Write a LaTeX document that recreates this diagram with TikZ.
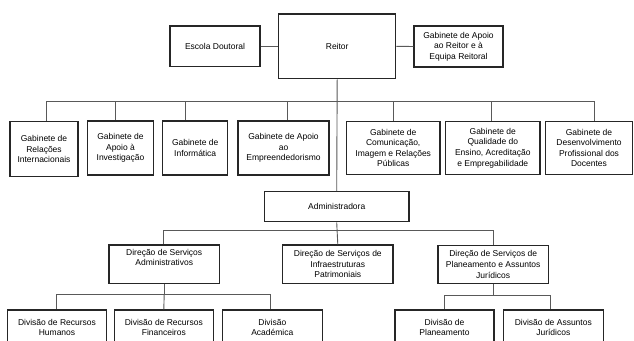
\documentclass[tikz,border=0pt]{standalone}
\usepackage{fontspec}
\setmainfont{Liberation Sans}
\begin{document}
\begin{tikzpicture}[x=1pt,y=-1pt,
  box/.style={draw=black!85,line width=1.3pt,fill=white,align=center,inner sep=1pt,
    font=\fontsize{8.5}{10.6}\selectfont},
  link/.style={draw=black!65,line width=0.9pt}]
\clip (0,0) rectangle (634,340);
\fill[white] (0,0) rectangle (634,340);
% top row
\node[box,minimum width=90pt,minimum height=40.5pt] (escola) at (215,46.3) {Escola Doutoral};
\node[box,minimum width=117pt,minimum height=64.7pt] (reitor) at (337.2,46.3) {Reitor};
\node[box,minimum width=89pt,minimum height=41pt] (gabreitor) at (458.5,46.5) {Gabinete de Apoio\\ao Reitor e à\\Equipa Reitoral};
% gabinetes
\node[box,minimum width=68pt,minimum height=55pt] (g1) at (44,149) {Gabinete de\\Relações\\Internacionais};
\node[box,minimum width=65.6pt,minimum height=54pt] (g2) at (120.5,148) {Gabinete de\\Apoio à\\Investigação};
\node[box,minimum width=65pt,minimum height=54pt] (g3) at (195.2,148) {Gabinete de\\Informática};
\node[box,minimum width=91pt,minimum height=54pt] (g4) at (283.5,148) {Gabinete de Apoio\\ao\\Empreendedorismo};
\node[box,minimum width=93.7pt,minimum height=53pt] (g5) at (393.2,148) {Gabinete de\\Comunicação,\\Imagem e Relações\\Públicas};
\node[box,minimum width=94.3pt,minimum height=53pt] (g6) at (492.8,148) {Gabinete de\\Qualidade do\\Ensino, Acreditação\\e Empregabilidade};
\node[box,minimum width=86.6pt,minimum height=53pt] (g7) at (589,148) {Gabinete de\\Desenvolvimento\\Profissional dos\\Docentes};
% administradora
\node[box,minimum width=144.7pt,minimum height=30pt] (admin) at (336.7,206.7) {Administradora};
\node[box,minimum width=110.3pt,minimum height=38.3pt] (dsa) at (164.2,264.2) {Direção de Serviços\\Administrativos\\[3pt]};
\node[box,minimum width=110.3pt,minimum height=38.3pt] (dsi) at (337.8,264.2) {Direção de Serviços de\\Infraestruturas\\Patrimoniais};
\node[box,minimum width=110.3pt,minimum height=37.6pt] (dsp) at (493.2,264.5) {Direção de Serviços de\\Planeamento e Assuntos\\Jurídicos};
% divisions
\node[box,minimum width=99.4pt,minimum height=35pt] (d1) at (57,327.5) {Divisão de Recursos\\Humanos};
\node[box,minimum width=99pt,minimum height=35pt] (d2) at (163.8,327.5) {Divisão de Recursos\\Financeiros};
\node[box,minimum width=100pt,minimum height=35pt] (d3) at (272.3,327.5) {Divisão\\Académica};
\node[box,minimum width=99pt,minimum height=35pt] (d4) at (444.5,327.5) {Divisão de\\Planeamento};
\node[box,minimum width=100pt,minimum height=35pt] (d5) at (553.3,327.5) {Divisão de Assuntos\\Jurídicos};
% bus coordinates
\coordinate (b1) at (46,101);
\coordinate (b2) at (115,101);
\coordinate (b3) at (185,101);
\coordinate (b4) at (287,101);
\coordinate (b5) at (393,101);
\coordinate (b6) at (491.7,101);
\coordinate (b7) at (594,101);
\coordinate (c1) at (163.3,230);
\coordinate (c3) at (493,230);
\coordinate (e1) at (56,294.3);
\coordinate (e3) at (270.7,294.3);
\coordinate (f1) at (444,295);
\coordinate (f2) at (550,295);
% connectors
\draw[link] (escola.east) -- (reitor.west);
\draw[link] (reitor.east) -- (gabreitor.west);
\draw[link] (reitor.south) -- (admin.north);
\draw[link] (b1) -- (b7);
\foreach \b/\g in {b1/g1,b2/g2,b3/g3,b4/g4,b5/g5,b6/g6,b7/g7}
  \draw[link] (\b) -- (\b |- \g.north);
\draw[link] (admin.south) -- (dsi.north);
\draw[link] (c1) -- (c3);
\draw[link] (c1) -- (c1 |- dsa.north);
\draw[link] (c3) -- (c3 |- dsp.north);
\draw[link] (dsa.south) -- (dsa.south |- e1);
\draw[link] (e1) -- (e3);
\draw[link] (e1) -- (e1 |- d1.north);
\draw[link] (dsa.south |- e1) -- (d2.north);
\draw[link] (e3) -- (e3 |- d3.north);
\draw[link] (dsp.south) -- (dsp.south |- f1);
\draw[link] (f1) -- (f2);
\draw[link] (f1) -- (f1 |- d4.north);
\draw[link] (f2) -- (f2 |- d5.north);
\end{tikzpicture}
\end{document}
